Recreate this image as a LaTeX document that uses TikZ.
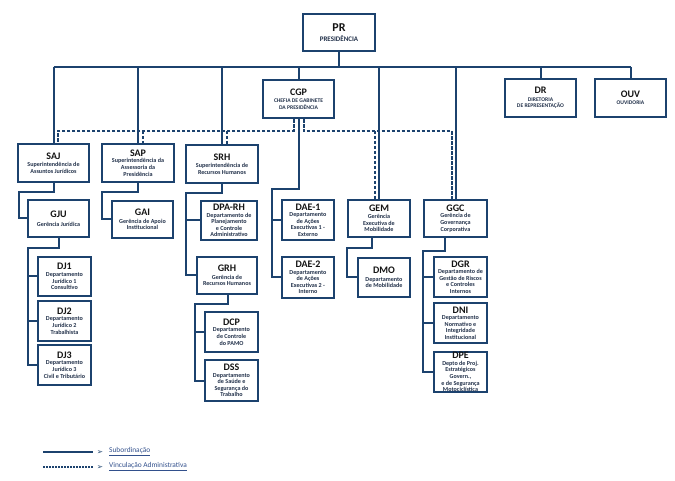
\documentclass[tikz,border=0pt]{standalone}
\usepackage{fontspec}
\setmainfont{Carlito}
\newfontfamily\djv{DejaVu Sans}
\definecolor{navy}{RGB}{28,66,110}
\definecolor{titlecol}{RGB}{20,20,20}
\definecolor{subcol}{RGB}{35,50,75}
\definecolor{legcol}{RGB}{50,80,140}
\pgfdeclarelayer{background}
\pgfsetlayers{background,main}
\newcommand\ttl[1]{{\color{titlecol}\fontsize{10}{10}\selectfont #1}}
\newcommand\orgbox[6]{%
  \node[orgframe, minimum width=#4pt, minimum height=#5pt] (#1) at (#2,#3) {};
  \node[orgtext] (#1-t) at (#1) {#6};
}
\begin{document}
\begin{tikzpicture}[x=1pt,y=-1pt,
  orgframe/.style={draw=navy, line width=2.2pt, fill=white, inner sep=0pt, rectangle},
  orgtext/.style={align=center, inner sep=0pt, text=subcol, font=\fontsize{6.1}{6.6}\selectfont\bfseries},
  captext/.style={orgtext, font=\fontsize{5.6}{6.4}\selectfont\bfseries},
  sub/.style={draw=navy, line width=2pt},
  adm/.style={draw=navy, line width=2pt, dash pattern=on 3.5pt off 1.5pt},
  legtext/.style={anchor=west, inner sep=0pt, text=legcol, font=\fontsize{7.4}{8}\selectfont}]
\useasboundingbox (0,0) rectangle (675,481);

\node[orgframe, minimum width=72pt, minimum height=37pt] (pr) at (339,32.5) {};
\node[orgtext, font=\fontsize{7}{8}\selectfont\bfseries] (pr-t) at (pr) {{\color{titlecol}\fontsize{12}{12}\selectfont PR}\\[2pt]PRESIDÊNCIA};
\node[orgframe, minimum width=71pt, minimum height=38pt] (cgp) at (298.5,99) {};
\node[captext] (cgp-t) at (cgp) {\ttl{CGP}\\[1pt]CHEFIA DE GABINETE\\DA PRESIDÊNCIA};
\node[orgframe, minimum width=71pt, minimum height=38pt] (dr) at (540.5,98) {};
\node[captext] (dr-t) at (dr) {\ttl{DR}\\[1pt]DIRETORIA\\DE REPRESENTAÇÃO};
\node[orgframe, minimum width=71pt, minimum height=38pt] (ouv) at (630.5,98) {};
\node[captext] (ouv-t) at (ouv) {\ttl{OUV}\\[1pt]OUVIDORIA};

\orgbox{saj}{53.5}{163}{71}{38}{\ttl{SAJ}\\[1pt]Superintendência de\\Assuntos Jurídicos}
\orgbox{sap}{138}{163}{72}{38}{\ttl{SAP}\\Superintendência da\\Assessoria da\\Presidência}
\orgbox{srh}{222}{164}{72}{38}{\ttl{SRH}\\[1pt]Superintendência de\\Recursos Humanos}

\orgbox{gju}{58.5}{218.5}{61}{37}{\ttl{GJU}\\[2pt]Gerência Jurídica}
\orgbox{gai}{142.5}{219.5}{61}{37}{\ttl{GAI}\\[1pt]Gerência de Apoio\\Institucional}
\orgbox{dparh}{229}{220.5}{56}{39}{\ttl{DPA-RH}\\Departamento de\\Planejamento\\e Controle\\Administrativo}
\orgbox{grh}{227}{275.5}{60}{37}{\ttl{GRH}\\[1pt]Gerência de\\Recursos Humanos}
\orgbox{dcp}{231.5}{332}{53}{40}{\ttl{DCP}\\Departamento\\de Controle\\do PAMO}
\orgbox{dss}{231.5}{380.5}{53}{41}{\ttl{DSS}\\Departamento\\de Saúde e\\Segurança do\\Trabalho}

\orgbox{dae1}{308}{220}{52}{40}{\ttl{DAE-1}\\Departamento\\de Ações\\Executivas 1 -\\Externo}
\orgbox{dae2}{308}{277.5}{52}{41}{\ttl{DAE-2}\\Departamento\\de Ações\\Executivas 2 -\\Interno}

\orgbox{gem}{379}{218.5}{62}{37}{\ttl{GEM}\\Gerência\\Executiva de\\Mobilidade}
\orgbox{dmo}{384}{277.5}{52}{39}{\ttl{DMO}\\[1pt]Departamento\\de Mobilidade}

\orgbox{ggc}{455.5}{218.5}{63}{37}{\ttl{GGC}\\Gerência de\\Governança\\Corporativa}
\orgbox{dgr}{460.5}{277}{53}{40}{\ttl{DGR}\\Departamento de\\Gestão de Riscos\\e Controles\\Internos}
\orgbox{dni}{460.5}{323}{53}{40}{\ttl{DNI}\\Departamento\\Normativo e\\Integridade\\Institucional}
\orgbox{dpe}{460.5}{372}{53}{40}{\ttl{DPE}\\Depto de Proj.\\Estratégicos\\Govern.,\\e de Segurança\\Motociclística}

\orgbox{dj1}{64.5}{276.5}{53}{39}{\ttl{DJ1}\\Departamento\\Jurídico 1\\Consultivo}
\orgbox{dj2}{64.5}{321}{53}{40}{\ttl{DJ2}\\Departamento\\Jurídico 2\\Trabalhista}
\orgbox{dj3}{64.5}{365}{53}{40}{\ttl{DJ3}\\Departamento\\Jurídico 3\\Civil e Tributário}

\coordinate (bus) at (0,67);
\coordinate (dbus) at (0,131);

\begin{pgfonlayer}{background}
% subordination bus
\draw[sub] (pr.south) -- (pr.south |- bus);
\draw[sub] (saj.north |- bus) -- (ouv.north |- bus);
\foreach \n in {saj,sap,srh,cgp,gem,ggc,dr,ouv}
  \draw[sub] (\n.north |- bus) -- (\n.north);
% administrative links
\draw[adm] ([xshift=-5pt]cgp.south) |- ([xshift=4pt]saj.north |- dbus) -- ([xshift=4pt]saj.north);
\draw[adm] ([xshift=5pt]sap.north |- dbus) -- ([xshift=5pt]sap.north);
\draw[adm] ([xshift=5pt]srh.north |- dbus) -- ([xshift=5pt]srh.north);
\draw[adm] ([xshift=5pt]cgp.south) |- ([xshift=-4pt]ggc.north |- dbus) -- ([xshift=-4pt]ggc.north);
\draw[adm] ([xshift=-4pt]gem.north |- dbus) -- ([xshift=-4pt]gem.north);
% CGP to DAE
\draw[sub] (cgp.south) -- ++(0,70) -| ([xshift=-9pt]dae2.west) -- (dae2.west);
\draw[sub] ([xshift=-9pt]dae1.west) -- (dae1.west);
% SAJ branch
\draw[sub] (saj.south) -- ++(0,9) -| ([xshift=-8pt]gju.west) -- (gju.west);
\draw[sub] (gju.south) -- ++(0,10) -| ([xshift=-9pt]dj3.west) -- (dj3.west);
\draw[sub] ([xshift=-9pt]dj1.west) -- (dj1.west);
\draw[sub] ([xshift=-9pt]dj2.west) -- (dj2.west);
% SAP branch
\draw[sub] (sap.south) -- ++(0,9) -| ([xshift=-9pt]gai.west) -- (gai.west);
% SRH branch
\draw[sub] (srh.south) -- ++(0,9) -| ([xshift=-10pt]grh.west) -- (grh.west);
\draw[sub] ([xshift=-14pt]dparh.west) -- (dparh.west);
\draw[sub] ([xshift=1pt]grh.south) -- ++(0,9) -| ([xshift=-9pt]dss.west) -- (dss.west);
\draw[sub] ([xshift=-9pt]dcp.west) -- (dcp.west);
% GEM branch
\draw[sub] ([xshift=-7pt]gem.south) -- ++(0,10) -| ([xshift=-10pt]dmo.west) -- (dmo.west);
% GGC branch
\draw[sub] ([xshift=-10.5pt]ggc.south) -- ++(0,13) -| ([xshift=-10pt]dpe.west) -- (dpe.west);
\draw[sub] ([xshift=-10pt]dgr.west) -- (dgr.west);
\draw[sub] ([xshift=-10pt]dni.west) -- (dni.west);
\end{pgfonlayer}

% legend
\coordinate (l1a) at (43,452);
\coordinate (l1b) at (93,452);
\coordinate (l2a) at (43,467);
\coordinate (l2b) at (93,467);
\draw[sub] (l1a) -- (l1b);
\draw[adm, dash pattern=on 2pt off 1pt] (l2a) -- (l2b);
\node[inner sep=0pt, text=navy, font=\djv\fontsize{7.5}{8}\selectfont] (m1) at (100,452) {➢};
\node[inner sep=0pt, text=navy, font=\djv\fontsize{7.5}{8}\selectfont] (m2) at (100,467) {➢};
\node[legtext] (t1) at (109,452) {\underline{Subordinação}};
\node[legtext] (t2) at (109,467) {\underline{Vinculação Administrativa}};
\end{tikzpicture}
\end{document}
